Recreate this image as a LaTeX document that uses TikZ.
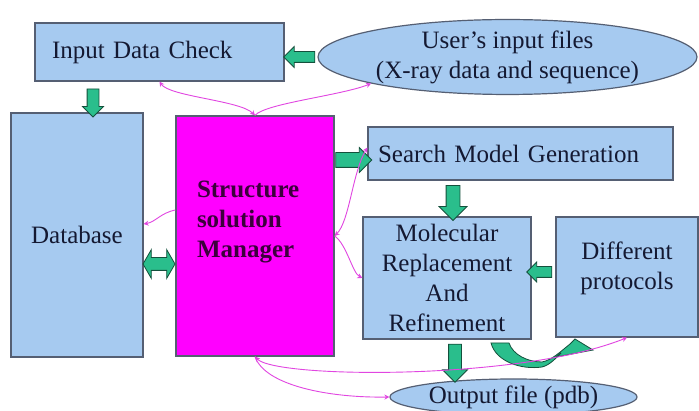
\documentclass[tikz,border=0pt]{standalone}
\usepackage{fontspec}
\setmainfont{Liberation Serif}
\usetikzlibrary{shapes.geometric,shapes.arrows,arrows.meta}

\definecolor{boxblue}{RGB}{166,202,240}
\definecolor{boxline}{RGB}{85,95,115}
\definecolor{mgrpink}{RGB}{255,0,255}
\definecolor{mgrtext}{RGB}{60,0,60}
\definecolor{arrowgreen}{RGB}{42,190,140}
\definecolor{arrowline}{RGB}{20,80,60}
\definecolor{linkpink}{RGB}{225,70,225}
\definecolor{textdark}{RGB}{20,25,50}

\begin{document}
\begin{tikzpicture}[x=1pt,y=-1pt]
    % Define styles
    \tikzset{
        box/.style={draw=boxline, line width=1.2pt, fill=boxblue, text=textdark,
            font=\fontsize{25}{30}\selectfont, inner sep=0pt},
        oval/.style={box, ellipse},
        garrow/.style={single arrow, draw=arrowline, fill=arrowgreen, line width=0.8pt,
            inner xsep=0pt},
        gdouble/.style={double arrow, draw=arrowline, fill=arrowgreen, line width=0.8pt,
            inner xsep=0pt, double arrow tip angle=120},
        link/.style={linkpink, line width=0.9pt, >={Stealth[length=5pt,width=5pt]}}
    }

    \useasboundingbox[fill=white] (0,0) rectangle (699,411);

    % Boxes
    \node[box, minimum width=249, minimum height=58, text width=215, align=left] (idc) at (159.5,52) {Input Data Check};
    \node[oval, minimum width=379, minimum height=73, align=center] (user) at (507.5,57) {User's input files\\(X-ray data and sequence)};
    \node[box, minimum width=132, minimum height=244] (db) at (77,235) {Database};
    \node[box, fill=mgrpink, text=mgrtext, minimum width=158, minimum height=240, text width=116, align=left,
        font=\fontsize{25}{30}\selectfont\bfseries, text depth=94pt] (mgr) at (255,236) {Structure\\solution\\Manager};
    \node[box, minimum width=305, minimum height=53, text width=285, align=left] (smg) at (520.5,153.5) {Search Model Generation};
    \node[box, minimum width=168, minimum height=122, align=center] (mr) at (447,278) {Molecular\\Replacement\\And\\Refinement};
    \node[box, minimum width=142, minimum height=120, align=center, text depth=22pt] (dp) at (627,277) {Different\\protocols};
    \node[oval, minimum width=247, minimum height=36] (out) at (513.5,397) {Output file (pdb)};

    % Block arrows
    \node[garrow, minimum height=31, inner ysep=5pt, single arrow head extend=5pt, rotate=180] (a1) at (302,57) {};
    \node[garrow, minimum height=28, inner ysep=5.5pt, single arrow head extend=4.5pt, rotate=-90] (a2) at (93,100) {};
    \node[garrow, minimum height=36, inner ysep=7pt, single arrow head extend=5pt] (a3) at (350,160) {};
    \node[gdouble, minimum height=32, inner ysep=6pt, double arrow head extend=8pt] (a4) at (159,264) {};
    \node[garrow, minimum height=35, inner ysep=6.5pt, single arrow head extend=7pt, rotate=-90] (a5) at (453,199.5) {};
    \node[garrow, minimum height=25, inner ysep=5pt, single arrow head extend=4.5pt, rotate=180] (a6) at (542,272) {};
    \node[garrow, minimum height=38, inner ysep=6pt, single arrow head extend=6pt, rotate=-90] (a7) at (455,360) {};

    % Curved arrow under the boxes
    \filldraw[draw=arrowline, fill=arrowgreen, line width=0.8pt]
        (491,343) .. controls (496,362) and (522,370) .. (542,367)
        .. controls (550,365) and (556,358) .. (561,353)
        -- (556,357) -- (593,350) -- (575,339) -- (570,344)
        .. controls (560,352) and (552,360) .. (542,362)
        .. controls (528,362) and (513,355) .. (509,343) -- cycle;

    % Links from the manager
    \draw[link,<->] (idc.south) .. controls +(10,15) and +(-15,-15) .. (mgr.north);
    \draw[link,->] (mgr.north) .. controls +(10,-12) and +(-30,12) .. (user.191);
    \draw[link,->] ([yshift=26pt]mgr.west) .. controls +(-15,3) and +(12,-2) .. ([yshift=11pt]db.east);
    \draw[link,<->] (mgr.east) .. controls +(15,-15) and +(-15,25) .. ([yshift=6pt]smg.west);
    \draw[link,->] (mgr.east) .. controls +(12,8) and +(-10,-5) .. (mr.west);
    \draw[link,<->] (mgr.south) .. controls +(20,22) and +(-107,43) .. (dp.south);
    \draw[link,->] (mgr.south) .. controls +(10,29) and +(-60,1) .. (out.west);
\end{tikzpicture}
\end{document}
